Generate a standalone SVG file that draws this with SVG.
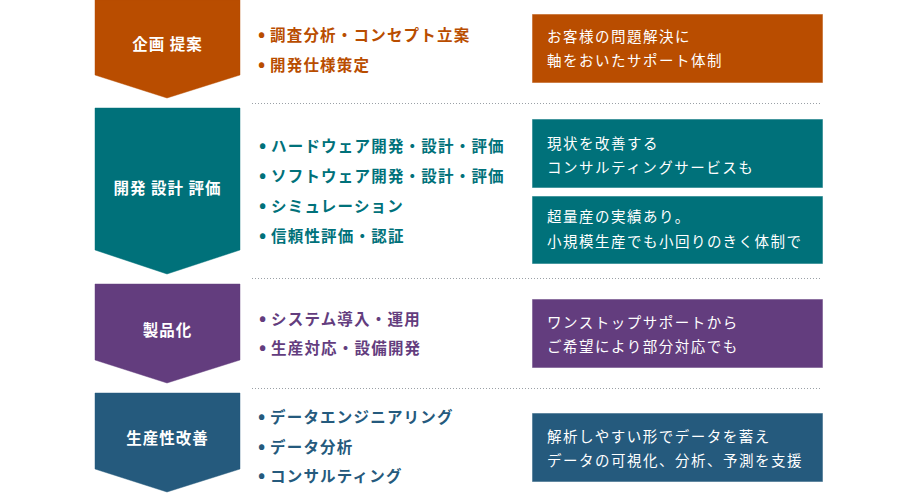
<svg xmlns="http://www.w3.org/2000/svg" width="920" height="500" viewBox="0 0 920 500">
<style>
text{font-family:"Noto Sans CJK JP","Noto Sans CJK SC",sans-serif}
.lbl{font-size:15.5px;font-weight:bold;fill:#fff;letter-spacing:1px;text-anchor:middle}
.item{font-size:15.5px;font-weight:bold;letter-spacing:1.2px}
.bul{font-size:19px}
.note{font-size:14.5px;fill:#fff;letter-spacing:1.5px}
.sep{stroke:#9aa0a6;stroke-width:1;stroke-dasharray:1 2;fill:none}
.shape{stroke-width:1;stroke-opacity:0.45}
.o{fill:#B94D00;stroke:#B94D00}
.t{fill:#00717A;stroke:#00717A}
.p{fill:#633D7E;stroke:#633D7E}
.b{fill:#255A7D;stroke:#255A7D}
</style>
<rect width="920" height="500" fill="#fff"/>

<g id="separators">
<line class="sep" x1="252" y1="103.5" x2="822" y2="103.5"/>
<line class="sep" x1="252" y1="278.5" x2="822" y2="278.5"/>
<line class="sep" x1="252" y1="388.5" x2="822" y2="388.5"/>
</g>

<g id="stage-planning">
<polygon class="shape o" points="95,0 240,0 240,75 167,98 95,75"/>
<text class="lbl" x="167.5" y="50">企画 提案</text>
<g fill="#B94D00" class="item">
<text x="258" y="41"><tspan class="bul">•</tspan><tspan x="270">調査分析・コンセプト立案</tspan></text>
<text x="258" y="71"><tspan class="bul">•</tspan><tspan x="270">開発仕様策定</tspan></text>
</g>
<rect class="shape o" x="532.5" y="14.5" width="290" height="68"/>
<text class="note" x="547" y="42">お客様の問題解決に</text>
<text class="note" x="547" y="66">軸をおいたサポート体制</text>
</g>

<g id="stage-development">
<polygon class="shape t" points="95,108 240,108 240,250 167,274 95,250"/>
<text class="lbl" x="167.5" y="194">開発 設計 評価</text>
<g fill="#00717A" class="item">
<text x="259" y="152"><tspan class="bul">•</tspan><tspan x="271">ハードウェア開発・設計・評価</tspan></text>
<text x="259" y="182"><tspan class="bul">•</tspan><tspan x="271">ソフトウェア開発・設計・評価</tspan></text>
<text x="259" y="212"><tspan class="bul">•</tspan><tspan x="271">シミュレーション</tspan></text>
<text x="259" y="242"><tspan class="bul">•</tspan><tspan x="271">信頼性評価・認証</tspan></text>
</g>
<rect class="shape t" x="532.5" y="119.5" width="290" height="68"/>
<text class="note" x="547" y="149">現状を改善する</text>
<text class="note" x="547" y="173">コンサルティングサービスも</text>
<rect class="shape t" x="532.5" y="196.5" width="290" height="67"/>
<text class="note" x="547" y="222">超量産の実績あり。</text>
<text class="note" x="547" y="247">小規模生産でも小回りのきく体制で</text>
</g>

<g id="stage-production">
<polygon class="shape p" points="95,284 240,284 240,360 167,383 95,360"/>
<text class="lbl" x="167.5" y="336">製品化</text>
<g fill="#633D7E" class="item">
<text x="259" y="325"><tspan class="bul">•</tspan><tspan x="271">システム導入・運用</tspan></text>
<text x="259" y="354"><tspan class="bul">•</tspan><tspan x="271">生産対応・設備開発</tspan></text>
</g>
<rect class="shape p" x="532.5" y="299.5" width="290" height="68"/>
<text class="note" x="547" y="328">ワンストップサポートから</text>
<text class="note" x="547" y="352">ご希望により部分対応でも</text>
</g>

<g id="stage-improvement">
<polygon class="shape b" points="95,393 240,393 240,469 167,492 95,469"/>
<text class="lbl" x="167.5" y="444">生産性改善</text>
<g fill="#255A7D" class="item">
<text x="258" y="423"><tspan class="bul">•</tspan><tspan x="270">データエンジニアリング</tspan></text>
<text x="258" y="453"><tspan class="bul">•</tspan><tspan x="270">データ分析</tspan></text>
<text x="258" y="482"><tspan class="bul">•</tspan><tspan x="270">コンサルティング</tspan></text>
</g>
<rect class="shape b" x="532.5" y="413.5" width="290" height="68"/>
<text class="note" x="547" y="442">解析しやすい形でデータを蓄え</text>
<text class="note" x="547" y="466">データの可視化、分析、予測を支援</text>
</g>
</svg>
